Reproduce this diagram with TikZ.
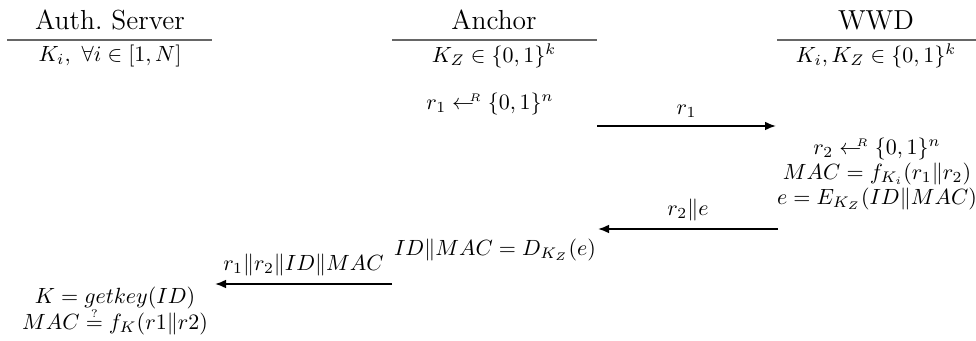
\documentclass[tikz,border=0pt]{standalone}
\usepackage{amsmath,amssymb}
\usetikzlibrary{arrows.meta}

\newcommand{\sampleR}{\mathrel{\leftarrow\mkern-9mu{}^{\scriptscriptstyle R}}}

\tikzset{
  rule/.style={line width=1.2pt, black!60},
  msg/.style={-{Latex[length=5pt,width=4pt]}, line width=0.8pt},
  lbl/.style={inner sep=1pt},
  steps/.style={inner sep=1pt, align=center, font=\fontsize{10pt}{11.3pt}\selectfont},
  party/.style={inner sep=1pt, font=\fontsize{12.5pt}{15pt}\selectfont},
}

\begin{document}
\begin{tikzpicture}[x=0.4545pt,y=-0.4545pt]
\useasboundingbox (0,0) rectangle (976,341);
% parties
\node[party] (srv) at (110,20) {Auth.\ Server};
\draw[rule] (7,40) -- (212,40);
\node[lbl] (srvkey) at (110,56) {$K_i,\ \forall i \in [1,N]$};
\node[party] (anc) at (494,20) {Anchor};
\draw[rule] (392,40) -- (597,40);
\node[lbl] (anckey) at (494,56) {$K_Z \in \{0,1\}^k$};
\node[party] (wwd) at (876,20) {WWD};
\draw[rule] (777,40) -- (976,40);
\node[lbl] (wwdkey) at (876,56) {$K_i, K_Z \in \{0,1\}^k$};
% round 1
\node[lbl] (ancr) at (490,104) {$r_1 \sampleR \{0,1\}^n$};
\coordinate (a1) at (597,126);
\coordinate (w1) at (776,126);
\draw[msg] (a1) -- node[above] {$r_1$} (w1);
\node[steps] (wwdr) at (877,174) {$r_2 \sampleR \{0,1\}^n$\\
  $MAC = f_{K_i}(r_1\|r_2)$\\ $e = E_{K_Z}(ID\|MAC)$};
% round 2
\coordinate (w2) at (778,229);
\coordinate (a2) at (598,229);
\draw[msg] (w2) -- node[above] {$r_2\|e$} (a2);
\node[lbl] (ancdec) at (495,250) {$ID\|MAC = D_{K_Z}(e)$};
% round 3
\coordinate (a3) at (392,284);
\coordinate (s3) at (215,284);
\draw[msg] (a3) -- node[above] {$r_1\|r_2\|ID\|MAC$} (s3);
\node[steps, font=\fontsize{10pt}{12pt}\selectfont] (srvchk) at (115,311) {$K = getkey(ID)$\\
  $MAC \mathrel{\smash{\overset{\scriptscriptstyle ?}{=}}} f_K(r1\|r2)$};
\end{tikzpicture}
\end{document}
